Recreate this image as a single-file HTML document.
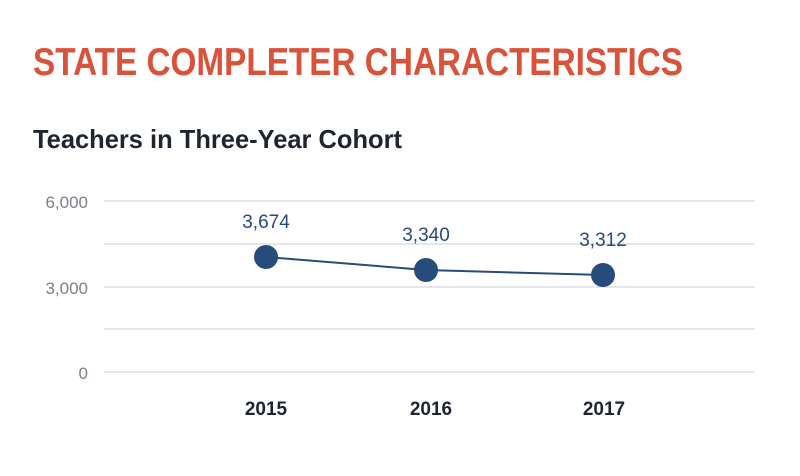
<!DOCTYPE html>
<html><head><meta charset="utf-8"><style>body{margin:0;background:#fff}svg{display:block}</style></head>
<body>
<svg width="800" height="476" xmlns="http://www.w3.org/2000/svg" font-family="Liberation Sans, sans-serif">
<text x="33" y="75" font-size="39" font-weight="bold" fill="#d9533b" textLength="650" lengthAdjust="spacingAndGlyphs">STATE COMPLETER CHARACTERISTICS</text>
<text x="33" y="148" font-size="26" font-weight="bold" fill="#1e2430" textLength="369" lengthAdjust="spacingAndGlyphs">Teachers in Three-Year Cohort</text>
<g stroke="#dcdde2" stroke-width="1.5">
<line x1="104" y1="201" x2="755" y2="201"/><line x1="104" y1="244" x2="755" y2="244"/><line x1="104" y1="287" x2="755" y2="287"/><line x1="104" y1="329" x2="755" y2="329"/><line x1="104" y1="372" x2="755" y2="372"/>
</g>
<g font-size="17" fill="#7d8089" text-anchor="end">
<text x="88" y="208">6,000</text><text x="88" y="294">3,000</text><text x="88" y="379">0</text>
</g>
<polyline points="266,257 426,270 603,275" fill="none" stroke="#274b7a" stroke-width="2"/>
<g fill="#274b7a"><circle cx="266" cy="257" r="12"/><circle cx="426" cy="270" r="12"/><circle cx="603" cy="275" r="12"/></g>
<g font-size="19" fill="#274b7a" text-anchor="middle">
<text x="266" y="228">3,674</text><text x="426" y="241">3,340</text><text x="603" y="246">3,312</text>
</g>
<g font-size="19" font-weight="bold" fill="#1e2430" text-anchor="middle">
<text x="266" y="415">2015</text><text x="431" y="415">2016</text><text x="604" y="415">2017</text>
</g>
</svg>
</body></html>
